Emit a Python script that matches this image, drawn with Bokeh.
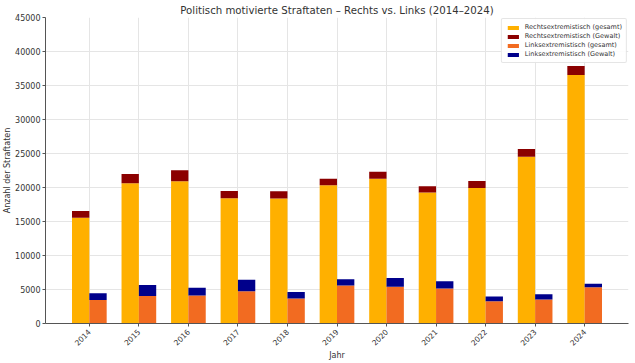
from bokeh.plotting import figure
from bokeh.models import Range1d, FixedTicker, Legend, LegendItem
from bokeh.embed import file_html
from bokeh.resources import INLINE
import math

years = [2014, 2015, 2016, 2017, 2018, 2019, 2020, 2021, 2022, 2023, 2024]
rechts_gesamt = [15540, 20620, 20920, 18420, 18370, 20330, 21300, 19250, 19940, 24520, 36540]
rechts_gewalt = [1020, 1370, 1610, 1070, 1080, 970, 1030, 940, 1030, 1130, 1320]
links_gesamt = [3470, 4060, 4100, 4740, 3660, 5570, 5420, 5130, 3270, 3520, 5320]
links_gewalt = [970, 1610, 1170, 1710, 980, 920, 1270, 1070, 690, 780, 540]
y_ticks = [0, 5000, 10000, 15000, 20000, 25000, 30000, 35000, 40000, 45000]

bw = 0.35
xr = [y - bw / 2 for y in years]
xl = [y + bw / 2 for y in years]
r_top = [a + b for a, b in zip(rechts_gesamt, rechts_gewalt)]
l_top = [a + b for a, b in zip(links_gesamt, links_gewalt)]

FONT = "DejaVu Sans"
TXT = "#333333"
x0 = years[0] - bw - 0.535
x1 = years[-1] + bw + 0.535
p = figure(width=635, height=363, output_backend="svg", toolbar_location=None,
           x_range=Range1d(x0, x1), y_range=Range1d(0, 45000),
           min_border_left=0, min_border_right=7, min_border_top=0, min_border_bottom=0)

p.title.text = "Politisch motivierte Straftaten – Rechts vs. Links (2014–2024)"
p.title.align = "center"
p.title.text_font = FONT
p.title.text_font_size = "10.2px"
p.title.text_font_style = "normal"
p.title.text_color = TXT
p.title.standoff = 4
p.title.offset = 0

p.outline_line_color = None

g1 = p.vbar(x=xr, width=bw, bottom=0, top=rechts_gesamt, fill_color="#FFB000", line_color=None)
g2 = p.vbar(x=xr, width=bw, bottom=rechts_gesamt, top=r_top, fill_color="#8B0000", line_color=None)
g3 = p.vbar(x=xl, width=bw, bottom=0, top=links_gesamt, fill_color="#F26B21", line_color=None)
g4 = p.vbar(x=xl, width=bw, bottom=links_gesamt, top=l_top, fill_color="#00008B", line_color=None)

legend = Legend(items=[
    LegendItem(label="Rechtsextremistisch (gesamt)", renderers=[g1]),
    LegendItem(label="Rechtsextremistisch (Gewalt)", renderers=[g2]),
    LegendItem(label="Linksextremistisch (gesamt)", renderers=[g3]),
    LegendItem(label="Linksextremistisch (Gewalt)", renderers=[g4]),
], location="top_right")
legend.label_text_font = FONT
legend.label_text_font_size = "6.5px"
legend.label_text_color = TXT
legend.label_height = 8
legend.glyph_height = 5
legend.glyph_width = 14
legend.spacing = 1
legend.padding = 4
legend.margin = 1
legend.label_standoff = 5
legend.border_line_color = "#cccccc"
legend.border_radius = 2
legend.background_fill_alpha = 0.9
p.add_layout(legend)

p.xaxis.ticker = FixedTicker(ticks=years)
p.yaxis.ticker = FixedTicker(ticks=y_ticks)
p.xaxis.major_label_orientation = math.radians(45)
p.xaxis.axis_label = "Jahr"
p.yaxis.axis_label = "Anzahl der Straftaten"
for ax in (p.xaxis, p.yaxis):
    ax.axis_label_text_font = FONT
    ax.axis_label_text_font_size = "8px"
    ax.axis_label_text_font_style = "normal"
    ax.axis_label_text_color = TXT
    ax.major_label_text_font = FONT
    ax.major_label_text_font_size = "8px"
    ax.major_label_text_color = TXT
    ax.axis_line_color = "#555555"
    ax.major_tick_line_color = "#555555"
    ax.major_tick_out = 3
    ax.major_tick_in = 0
    ax.minor_tick_line_color = None
    ax.major_label_standoff = 2
    ax.axis_label_standoff = 0
p.xaxis.major_label_text_font_size = "7.5px"
p.xaxis.major_label_standoff = 4
p.yaxis.axis_label_standoff = 0
p.yaxis.formatter.use_scientific = False

p.grid.grid_line_color = "#e5e5e5"
p.grid.grid_line_width = 1

open("out.html", "w").write(file_html(p, INLINE))
